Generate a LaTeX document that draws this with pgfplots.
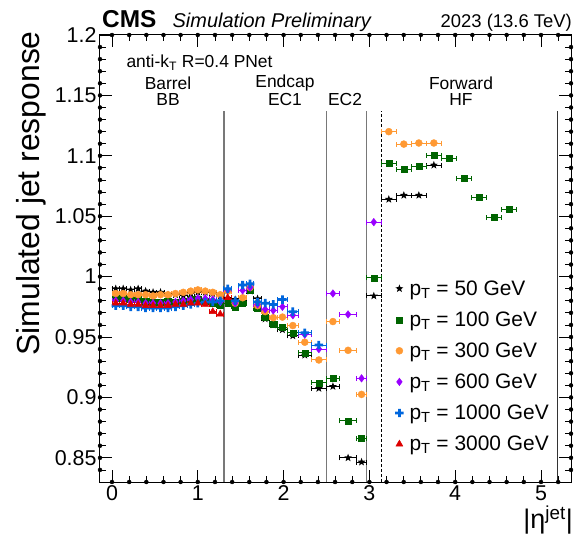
\documentclass[border=0pt]{standalone}
\usepackage{fontspec}
\setmainfont{Liberation Sans}
\usepackage{pgfplots}
\pgfplotsset{compat=1.18}
\definecolor{cgreen}{RGB}{0,100,0}
\definecolor{corange}{RGB}{255,153,51}
\definecolor{cpurple}{RGB}{153,0,255}
\definecolor{cblue}{RGB}{0,102,221}
\definecolor{cred}{RGB}{221,0,0}
\definecolor{cline}{RGB}{120,120,120}
\pgfdeclareplotmark{fullstar}{%
  \pgfpathmoveto{\pgfpointpolar{90}{1.2\pgfplotmarksize}}%
  \pgfpathlineto{\pgfpointpolar{126}{0.5\pgfplotmarksize}}%
  \pgfpathlineto{\pgfpointpolar{162}{1.2\pgfplotmarksize}}%
  \pgfpathlineto{\pgfpointpolar{198}{0.5\pgfplotmarksize}}%
  \pgfpathlineto{\pgfpointpolar{234}{1.2\pgfplotmarksize}}%
  \pgfpathlineto{\pgfpointpolar{270}{0.5\pgfplotmarksize}}%
  \pgfpathlineto{\pgfpointpolar{306}{1.2\pgfplotmarksize}}%
  \pgfpathlineto{\pgfpointpolar{342}{0.5\pgfplotmarksize}}%
  \pgfpathlineto{\pgfpointpolar{18}{1.2\pgfplotmarksize}}%
  \pgfpathlineto{\pgfpointpolar{54}{0.5\pgfplotmarksize}}%
  \pgfpathclose\pgfusepathqfill}
\pgfdeclareplotmark{fatcross}{%
  \pgfpathmoveto{\pgfpoint{-0.33\pgfplotmarksize}{\pgfplotmarksize}}%
  \pgfpathlineto{\pgfpoint{0.33\pgfplotmarksize}{\pgfplotmarksize}}%
  \pgfpathlineto{\pgfpoint{0.33\pgfplotmarksize}{0.33\pgfplotmarksize}}%
  \pgfpathlineto{\pgfpoint{\pgfplotmarksize}{0.33\pgfplotmarksize}}%
  \pgfpathlineto{\pgfpoint{\pgfplotmarksize}{-0.33\pgfplotmarksize}}%
  \pgfpathlineto{\pgfpoint{0.33\pgfplotmarksize}{-0.33\pgfplotmarksize}}%
  \pgfpathlineto{\pgfpoint{0.33\pgfplotmarksize}{-\pgfplotmarksize}}%
  \pgfpathlineto{\pgfpoint{-0.33\pgfplotmarksize}{-\pgfplotmarksize}}%
  \pgfpathlineto{\pgfpoint{-0.33\pgfplotmarksize}{-0.33\pgfplotmarksize}}%
  \pgfpathlineto{\pgfpoint{-\pgfplotmarksize}{-0.33\pgfplotmarksize}}%
  \pgfpathlineto{\pgfpoint{-\pgfplotmarksize}{0.33\pgfplotmarksize}}%
  \pgfpathlineto{\pgfpoint{-0.33\pgfplotmarksize}{0.33\pgfplotmarksize}}%
  \pgfpathclose\pgfusepathqfill}
\pgfplotsset{
  ser/.style={only marks, color=#1, mark options={fill=#1, draw=#1},
    error bars/x dir=both, error bars/x explicit,
    error bars/error bar style={line width=1bp, color=#1},
    error bars/error mark=|,
    error bars/error mark options={line width=1bp, mark size=2.5bp, color=#1}},
  tk/.style 2 args={forget plot, only marks, mark=none,
    error bars/#1 dir=#2, error bars/#1 fixed=##1,
    error bars/error mark=none,
    error bars/error bar style={black, line width=0.8pt}},
}
\newcommand{\pT}{p\textsubscript{T}}
\begin{document}
\begin{tikzpicture}
\begin{axis}[
  scale only axis, width=471bp, height=447bp,
  xmin=-0.14, xmax=5.35, ymin=0.83, ymax=1.2,
  xtick={0,1,2,3,4,5}, xticklabels={0,1,2,3,4,5}, minor x tick num=4,
  ytick={0.85,0.9,0.95,1,1.05,1.1,1.15,1.2},
  yticklabels={0.85,0.9,0.95,1,1.05,1.1,1.15,1.2}, minor y tick num=4,
  tick align=inside, axis on top,
  major tick length=12pt, minor tick length=6pt,
  major tick style={draw=black, line width=0.8pt},
  minor tick style={draw=black, line width=0.8pt},
  axis line style={line width=1bp},
  ticklabel style={font=\fontsize{21.5}{25}\selectfont},
  legend style={draw=none, fill=none, at={(0.62,0.46)}, anchor=north west,
    font=\fontsize{21}{25}\selectfont, row sep=11bp,
    /tikz/every odd column/.append style={column sep=4bp}},
  legend cell align=left,
]
% tick marks on the four sides
\addplot[forget plot, only marks, mark=none, error bars/.cd, y dir=plus, y fixed=0.0099, error mark=none, error bar style={black, line width=0.8pt}] coordinates {(0,0.83) (1,0.83) (2,0.83) (3,0.83) (4,0.83) (5,0.83)};
\addplot[forget plot, only marks, mark=none, error bars/.cd, y dir=minus, y fixed=0.0099, error mark=none, error bar style={black, line width=0.8pt}] coordinates {(0,1.2) (1,1.2) (2,1.2) (3,1.2) (4,1.2) (5,1.2)};
\addplot[forget plot, only marks, mark=none, error bars/.cd, y dir=plus, y fixed=0.005, error mark=none, error bar style={black, line width=0.8pt}] coordinates {(0.2,0.83) (0.4,0.83) (0.6,0.83) (0.8,0.83) (1.2,0.83) (1.4,0.83) (1.6,0.83) (1.8,0.83) (2.2,0.83) (2.4,0.83) (2.6,0.83) (2.8,0.83) (3.2,0.83) (3.4,0.83) (3.6,0.83) (3.8,0.83) (4.2,0.83) (4.4,0.83) (4.6,0.83) (4.8,0.83) (5.2,0.83)};
\addplot[forget plot, only marks, mark=none, error bars/.cd, y dir=minus, y fixed=0.005, error mark=none, error bar style={black, line width=0.8pt}] coordinates {(0.2,1.2) (0.4,1.2) (0.6,1.2) (0.8,1.2) (1.2,1.2) (1.4,1.2) (1.6,1.2) (1.8,1.2) (2.2,1.2) (2.4,1.2) (2.6,1.2) (2.8,1.2) (3.2,1.2) (3.4,1.2) (3.6,1.2) (3.8,1.2) (4.2,1.2) (4.4,1.2) (4.6,1.2) (4.8,1.2) (5.2,1.2)};
\addplot[forget plot, only marks, mark=none, error bars/.cd, x dir=plus, x fixed=0.14, error mark=none, error bar style={black, line width=0.8pt}] coordinates {(-0.14,0.85) (-0.14,0.9) (-0.14,0.95) (-0.14,1) (-0.14,1.05) (-0.14,1.1) (-0.14,1.15)};
\addplot[forget plot, only marks, mark=none, error bars/.cd, x dir=minus, x fixed=0.14, error mark=none, error bar style={black, line width=0.8pt}] coordinates {(5.35,0.85) (5.35,0.9) (5.35,0.95) (5.35,1) (5.35,1.05) (5.35,1.1) (5.35,1.15)};
\addplot[forget plot, only marks, mark=none, error bars/.cd, x dir=plus, x fixed=0.07, error mark=none, error bar style={black, line width=0.8pt}] coordinates {(-0.14,0.84) (-0.14,0.86) (-0.14,0.87) (-0.14,0.88) (-0.14,0.89) (-0.14,0.91) (-0.14,0.92) (-0.14,0.93) (-0.14,0.94) (-0.14,0.96) (-0.14,0.97) (-0.14,0.98) (-0.14,0.99) (-0.14,1.01) (-0.14,1.02) (-0.14,1.03) (-0.14,1.04) (-0.14,1.06) (-0.14,1.07) (-0.14,1.08) (-0.14,1.09) (-0.14,1.11) (-0.14,1.12) (-0.14,1.13) (-0.14,1.14) (-0.14,1.16) (-0.14,1.17) (-0.14,1.18) (-0.14,1.19)};
\addplot[forget plot, only marks, mark=none, error bars/.cd, x dir=minus, x fixed=0.07, error mark=none, error bar style={black, line width=0.8pt}] coordinates {(5.35,0.84) (5.35,0.86) (5.35,0.87) (5.35,0.88) (5.35,0.89) (5.35,0.91) (5.35,0.92) (5.35,0.93) (5.35,0.94) (5.35,0.96) (5.35,0.97) (5.35,0.98) (5.35,0.99) (5.35,1.01) (5.35,1.02) (5.35,1.03) (5.35,1.04) (5.35,1.06) (5.35,1.07) (5.35,1.08) (5.35,1.09) (5.35,1.11) (5.35,1.12) (5.35,1.13) (5.35,1.14) (5.35,1.16) (5.35,1.17) (5.35,1.18) (5.35,1.19)};

% region boundaries
\addplot[forget plot, cline, line width=1.2bp, no marks] coordinates {(1.305,0.83) (1.305,1.137)};
\addplot[forget plot, cline, line width=1.2bp, no marks] coordinates {(2.5,0.83) (2.5,1.137)};
\addplot[forget plot, cline, line width=1.2bp, no marks] coordinates {(2.964,0.83) (2.964,1.137)};
\addplot[forget plot, black, line width=0.8bp, dashed, dash pattern=on 3bp off 2bp, no marks] coordinates {(3.139,0.83) (3.139,1.137)};
\addplot[forget plot, black!80, line width=1.2bp, no marks] coordinates {(5.191,0.83) (5.191,1.137)};

% pT = 50 GeV
\addplot[ser=black, mark=fullstar, mark size=3.5bp] table[x=x,y=y,x error=e]{
x y e
0.0435 0.990 0.0435
0.1305 0.990 0.0435
0.2175 0.989 0.0435
0.3045 0.990 0.0435
0.3915 0.988 0.0435
0.4785 0.987 0.0435
0.5655 0.987 0.0435
0.6525 0.985 0.0435
0.7395 0.985 0.0435
0.831 0.984 0.048
0.918 0.986 0.039
1.0005 0.987 0.0435
1.0875 0.987 0.0435
1.1745 0.986 0.0435
1.2615 0.984 0.0435
1.3485 0.982 0.0435
1.4355 0.981 0.0435
1.5225 0.979 0.0435
1.6095 0.988 0.0435
1.6965 0.9817 0.0435
1.785 0.965 0.045
1.88 0.960 0.05
1.9865 0.956 0.0565
2.1075 0.951 0.0645
2.247 0.935 0.075
2.411 0.9075 0.089
2.575 0.9091 0.075
2.7515 0.850 0.1015
2.9085 0.8465 0.0555
3.0515 0.984 0.0875
3.2265 1.064 0.0875
3.4015 1.0673 0.0875
3.5765 1.0673 0.0875
3.7515 1.0923 0.0875
};
\addlegendentry{\pT\ = 50 GeV}

% pT = 100 GeV
\addplot[ser=cgreen, mark=square*, mark size=3bp] table[x=x,y=y,x error=e]{
x y e
0.0435 0.982 0.0435
0.1305 0.982 0.0435
0.2175 0.981 0.0435
0.3045 0.981 0.0435
0.3915 0.980 0.0435
0.4785 0.979 0.0435
0.5655 0.979 0.0435
0.6525 0.980 0.0435
0.7395 0.979 0.0435
0.831 0.980 0.048
0.918 0.981 0.039
1.0005 0.981 0.0435
1.0875 0.980 0.0435
1.1745 0.978 0.0435
1.2615 0.976 0.0435
1.3485 0.9776 0.0435
1.4355 0.975 0.0435
1.5225 0.9776 0.0435
1.6095 0.989 0.0435
1.6965 0.974 0.0435
1.785 0.966 0.045
1.88 0.961 0.05
1.9865 0.958 0.0565
2.1075 0.9535 0.0645
2.247 0.937 0.075
2.411 0.912 0.089
2.575 0.9158 0.075
2.7515 0.8805 0.1015
2.9085 0.8659 0.0555
3.0515 0.999 0.0875
3.2265 1.0937 0.0875
3.4015 1.0889 0.0875
3.5765 1.0912 0.0875
3.7515 1.1003 0.0875
3.926 1.0978 0.087
4.102 1.0812 0.089
4.277 1.0654 0.086
4.4505 1.0488 0.0875
4.627 1.0554 0.089
};
\addlegendentry{\pT\ = 100 GeV}

% pT = 300 GeV
\addplot[ser=corange, mark=*, mark size=3.5bp] table[x=x,y=y,x error=e]{
x y e
0.0435 0.986 0.0435
0.1305 0.986 0.0435
0.2175 0.985 0.0435
0.3045 0.985 0.0435
0.3915 0.985 0.0435
0.4785 0.984 0.0435
0.5655 0.985 0.0435
0.6525 0.985 0.0435
0.7395 0.986 0.0435
0.831 0.987 0.048
0.918 0.988 0.039
1.0005 0.989 0.0435
1.0875 0.988 0.0435
1.1745 0.987 0.0435
1.2615 0.985 0.0435
1.3485 0.988 0.0435
1.4355 0.978 0.0435
1.5225 0.9825 0.0435
1.6095 0.991 0.0435
1.6965 0.976 0.0435
1.785 0.971 0.045
1.88 0.966 0.05
1.9865 0.9665 0.0565
2.1075 0.9595 0.0645
2.247 0.9457 0.075
2.411 0.931 0.089
2.575 0.9628 0.075
2.7515 0.939 0.1015
2.9085 0.9025 0.0555
3.2265 1.120 0.0875
3.4015 1.1097 0.0875
3.5765 1.1106 0.0875
3.7515 1.1106 0.0875
};
\addlegendentry{\pT\ = 300 GeV}

% pT = 600 GeV
\addplot[ser=cpurple, mark=diamond*, mark size=3.8bp] table[x=x,y=y,x error=e]{
x y e
0.0435 0.980 0.0435
0.1305 0.980 0.0435
0.2175 0.979 0.0435
0.3045 0.979 0.0435
0.3915 0.978 0.0435
0.4785 0.978 0.0435
0.5655 0.978 0.0435
0.6525 0.978 0.0435
0.7395 0.979 0.0435
0.831 0.980 0.048
0.918 0.981 0.039
1.0005 0.982 0.0435
1.0875 0.982 0.0435
1.1745 0.981 0.0435
1.2615 0.979 0.0435
1.3485 0.989 0.0435
1.4355 0.978 0.0435
1.5225 0.9886 0.0435
1.6095 0.991 0.0435
1.6965 0.977 0.0435
1.785 0.973 0.045
1.88 0.972 0.05
1.9865 0.975 0.0565
2.1075 0.968 0.0645
2.247 0.952 0.075
2.411 0.940 0.089
2.575 0.986 0.075
2.7515 0.9687 0.1015
2.9085 0.9158 0.0555
3.0515 1.0451 0.0875
};
\addlegendentry{\pT\ = 600 GeV}

% pT = 1000 GeV
\addplot[ser=cblue, mark=fatcross, mark size=4.2bp] table[x=x,y=y,x error=e]{
x y e
0.0435 0.976 0.0435
0.1305 0.976 0.0435
0.2175 0.975 0.0435
0.3045 0.975 0.0435
0.3915 0.974 0.0435
0.4785 0.974 0.0435
0.5655 0.974 0.0435
0.6525 0.974 0.0435
0.7395 0.975 0.0435
0.831 0.976 0.048
0.918 0.977 0.039
1.0005 0.978 0.0435
1.0875 0.979 0.0435
1.1745 0.979 0.0435
1.2615 0.980 0.0435
1.3485 0.990 0.0435
1.4355 0.980 0.0435
1.5225 0.993 0.0435
1.6095 0.994 0.0435
1.6965 0.979 0.0435
1.785 0.978 0.045
1.88 0.977 0.05
1.9865 0.981 0.0565
2.1075 0.971 0.0645
2.247 0.9535 0.075
2.411 0.9434 0.089
};
\addlegendentry{\pT\ = 1000 GeV}

% pT = 3000 GeV
\addplot[ser=cred, mark=triangle*, mark size=4bp] table[x=x,y=y,x error=e]{
x y e
0.0435 0.978 0.0435
0.1305 0.978 0.0435
0.2175 0.977 0.0435
0.3045 0.977 0.0435
0.3915 0.976 0.0435
0.4785 0.976 0.0435
0.5655 0.976 0.0435
0.6525 0.976 0.0435
0.7395 0.977 0.0435
0.831 0.977 0.048
0.918 0.978 0.039
1.0005 0.978 0.0435
1.0875 0.977 0.0435
1.1745 0.971 0.0435
1.2615 0.969 0.0435
1.3485 0.9825 0.0435
};
\addlegendentry{\pT\ = 3000 GeV}

\node[anchor=west, font=\fontsize{17.5}{20}\selectfont] at (axis cs:0.128,1.177) {anti-k\textsubscript{T} R=0.4 PNet};
\node[font=\fontsize{17.5}{20}\selectfont] at (axis cs:0.653,1.1604) {Barrel};
\node[font=\fontsize{17.5}{20}\selectfont] at (axis cs:0.653,1.147) {BB};
\node[font=\fontsize{17.5}{20}\selectfont] at (axis cs:2.016,1.1604) {Endcap};
\node[font=\fontsize{17.5}{20}\selectfont] at (axis cs:2.016,1.147) {EC1};
\node[font=\fontsize{17.5}{20}\selectfont] at (axis cs:2.716,1.147) {EC2};
\node[font=\fontsize{17.5}{20}\selectfont] at (axis cs:4.068,1.1604) {Forward};
\node[font=\fontsize{17.5}{20}\selectfont] at (axis cs:4.068,1.147) {HF};
\end{axis}
% titles and axis labels
\node[anchor=base west, font=\fontsize{24.5}{28}\selectfont\bfseries, inner sep=0pt] at ([xshift=2bp,yshift=7bp]current axis.north west) {CMS};
\node[anchor=base west, font=\fontsize{20}{24}\selectfont\itshape, inner sep=0pt] at ([xshift=72.5bp,yshift=7bp]current axis.north west) {Simulation Preliminary};
\node[anchor=base east, font=\fontsize{18.5}{22}\selectfont, inner sep=0pt] at ([xshift=1bp,yshift=7bp]current axis.north east) {2023 (13.6 TeV)};
\node[rotate=90, anchor=base east, font=\fontsize{32}{36}\selectfont, inner sep=0pt] at ([xshift=-60bp,yshift=4bp]current axis.north west) {Simulated jet response};
\node[anchor=north east, font=\fontsize{27}{30}\selectfont, inner sep=0pt] at ([xshift=2bp,yshift=-24bp]current axis.south east) {|η\textsuperscript{jet}|};
\pgfresetboundingbox
\useasboundingbox ([xshift=-100bp,yshift=-53bp]current axis.south west) rectangle ([xshift=5bp,yshift=35bp]current axis.north east);
\end{tikzpicture}
\end{document}
